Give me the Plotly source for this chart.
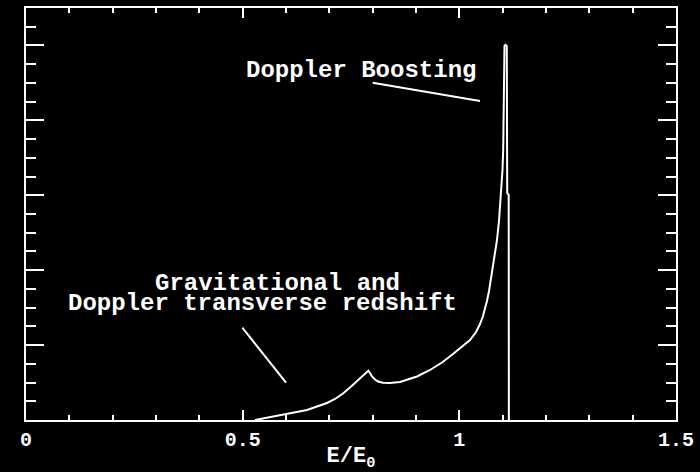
import plotly.graph_objects as go

# Line profile: photon energy relative to rest energy vs. relative flux
energy = [0.5285, 0.5400, 0.5631, 0.5931, 0.6208, 0.6485, 0.6715, 0.6946, 0.7131,
          0.7315, 0.7477, 0.7615, 0.7754, 0.7899, 0.7938, 0.7985, 0.8054, 0.8123,
          0.8238, 0.8400, 0.8631, 0.8792, 0.9023, 0.9323, 0.9600, 0.9854, 1.0062,
          1.0246, 1.0385, 1.0477, 1.0546, 1.0592, 1.0638, 1.0685, 1.0731, 1.0777,
          1.0823, 1.0869, 1.0915, 1.0950, 1.0977, 1.0996, 1.1012, 1.1019, 1.1026,
          1.1033, 1.1042, 1.1065, 1.1095, 1.1105, 1.1139, 1.1143]
flux = [0.0000, 0.0134, 0.0334, 0.0668, 0.1001, 0.1335, 0.1802, 0.2270, 0.2804,
        0.3538, 0.4339, 0.5073, 0.5808, 0.6582, 0.6275, 0.5808, 0.5407, 0.5140,
        0.4980, 0.4940, 0.5073, 0.5340, 0.5808, 0.6676, 0.7677, 0.8812, 0.9746,
        1.0681, 1.1749, 1.2817, 1.3885, 1.4820, 1.5888, 1.7223, 1.8959, 2.0694,
        2.2430, 2.4032, 2.6568, 2.9372, 3.1775, 3.3377, 3.6047, 4.0053, 4.5393,
        4.8731, 4.9933, 5.0067, 4.9933, 3.0307, 3.0040, 0.0000]

x_tick_vals = [0, 0.5, 1, 1.5]
x_tick_text = ["0", "0.5", "1", "1.5"]

FONT = "Liberation Mono"
WHITE = "white"

fig = go.Figure()
fig.add_trace(go.Scatter(x=energy, y=flux, mode="lines",
                         line=dict(color=WHITE, width=2), hoverinfo="skip",
                         showlegend=False))

axis_common = dict(showline=True, linecolor=WHITE, linewidth=2, mirror="ticks",
                   ticks="inside", tickcolor=WHITE, tickwidth=2,
                   showgrid=False, zeroline=False, automargin=False)

fig.update_xaxes(range=[0, 1.5], tickvals=x_tick_vals, ticktext=x_tick_text,
                 ticklen=10,
                 minor=dict(dtick=0.1, ticks="inside", ticklen=5, tickcolor=WHITE,
                            tickwidth=2, showgrid=False),
                 tickfont=dict(family=FONT, size=20, color=WHITE, weight="bold"),
                 title=dict(text="E/E<sub>0</sub>", standoff=2,
                            font=dict(family=FONT, size=22, color=WHITE, weight="bold")),
                 **axis_common)
fig.update_yaxes(range=[0, 5.5], dtick=1, tick0=0, ticklen=18, showticklabels=False,
                 minor=dict(dtick=0.25, ticks="inside", ticklen=10, tickcolor=WHITE,
                            tickwidth=2, showgrid=False),
                 **axis_common)

label_font = dict(family=FONT, size=24, color=WHITE, weight="bold")
fig.add_annotation(x=0.772, y=4.66, text="Doppler Boosting", showarrow=False,
                   font=label_font, xanchor="center", yanchor="middle")
fig.add_annotation(x=0.5804, y=1.82, text="Gravitational and", showarrow=False,
                   font=label_font, xanchor="center", yanchor="middle")
fig.add_annotation(x=0.5465, y=1.555, text="Doppler transverse redshift",
                   showarrow=False, font=label_font, xanchor="center",
                   yanchor="middle")

# Pointer lines from the labels toward the features they describe
fig.add_shape(type="line", x0=0.800, y0=4.503, x1=1.0477, y1=4.259,
              line=dict(color=WHITE, width=2))
fig.add_shape(type="line", x0=0.4992, y0=1.232, x1=0.600, y1=0.498,
              line=dict(color=WHITE, width=2))

fig.update_layout(width=700, height=472, paper_bgcolor="black", plot_bgcolor="black",
                  margin=dict(l=26, r=24, t=8, b=52), showlegend=False)

fig.write_html("out.html")
